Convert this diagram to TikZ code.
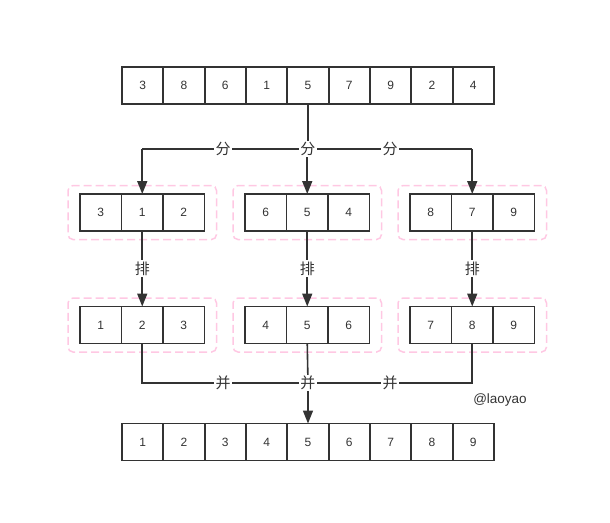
\documentclass[tikz,border=0pt]{standalone}
\usepackage{fontspec}
\setmainfont{Liberation Sans}
\newfontfamily\cjk{Noto Sans CJK SC}
\usetikzlibrary{arrows.meta,positioning,fit}
\definecolor{linegray}{HTML}{333333}
\definecolor{boxpink}{HTML}{FFC8E3}
\tikzset{
  cell/.style={draw=linegray,line width=1.6pt,minimum width=41.5pt,minimum height=37pt,inner sep=0pt,outer sep=0pt,font=\fontsize{12}{12}\selectfont,text=linegray},
  group/.style={draw=boxpink,line width=1.5pt,dash pattern=on 8pt off 4pt,rounded corners=5pt,inner xsep=12pt,inner ysep=8.5pt},
  word/.style={fill=white,inner sep=1.5pt,font=\cjk\fontsize{15}{15}\selectfont,text=linegray},
  link/.style={draw=linegray,line width=1.6pt},
}
\begin{document}
\begin{tikzpicture}[x=1pt,y=-1pt,>={Triangle[length=13pt,width=10pt]}]
\useasboundingbox (0,0) rectangle (610,522);
% unsorted and merged rows
\foreach \v [count=\i] in {3,8,6,1,5,7,9,2,4}
    \node[cell] (t\i) at (122+41.33*\i-20.67,85.5) {\v};
\foreach \i in {1,...,9}
    \node[cell] (r\i) at (122+41.33*\i-20.67,442) {\i};
% three groups, before and after sorting
\foreach \g/\x/\a/\b/\c/\d/\e/\f in {1/80/3/1/2/1/2/3, 2/245/6/5/4/4/5/6, 3/410/8/7/9/7/8/9}
{
    \node[cell] (p\g1) at (\x+20.75,212.5) {\a};
    \node[cell,right=0pt of p\g1] (p\g2) {\b};
    \node[cell,right=0pt of p\g2] (p\g3) {\c};
    \node[cell] (q\g1) at (\x+20.75,325) {\d};
    \node[cell,right=0pt of q\g1] (q\g2) {\e};
    \node[cell,right=0pt of q\g2] (q\g3) {\f};
    \node[group,fit=(p\g1)(p\g3)] (pg\g) {};
    \node[group,fit=(q\g1)(q\g3)] (qg\g) {};
    \draw[link,->] (p\g2.south) -- (q\g2.north) node[word,midway] (sort\g) {排};
}
% split
\coordinate (split) at (t5.south |- 0,149);
\draw[link] (t5.south) -- (split);
\draw[link] (p12.north |- split) -- (p32.north |- split);
\foreach \g in {1,2,3}
    \draw[link,->] (p\g2.north |- split) -- (p\g2.north);
\node[word] (s1) at (223,149) {分};
\node[word] (s2) at (split) {分};
\node[word] (s3) at (390,149) {分};
% merge
\coordinate (merge) at (r5.north |- 0,383);
\draw[link] (q12.south) -- (q12.south |- merge) -- (q32.south |- merge) -- (q32.south);
\draw[link] (q22.south) -- (merge);
\draw[link,->] (merge) -- (r5.north);
\node[word] (m1) at (223,383) {并};
\node[word] (m2) at (merge) {并};
\node[word] (m3) at (390,383) {并};
\node[font=\fontsize{13.5}{13.5}\selectfont,text=linegray] (sign) at (500,400) {@laoyao};
\end{tikzpicture}
\end{document}
